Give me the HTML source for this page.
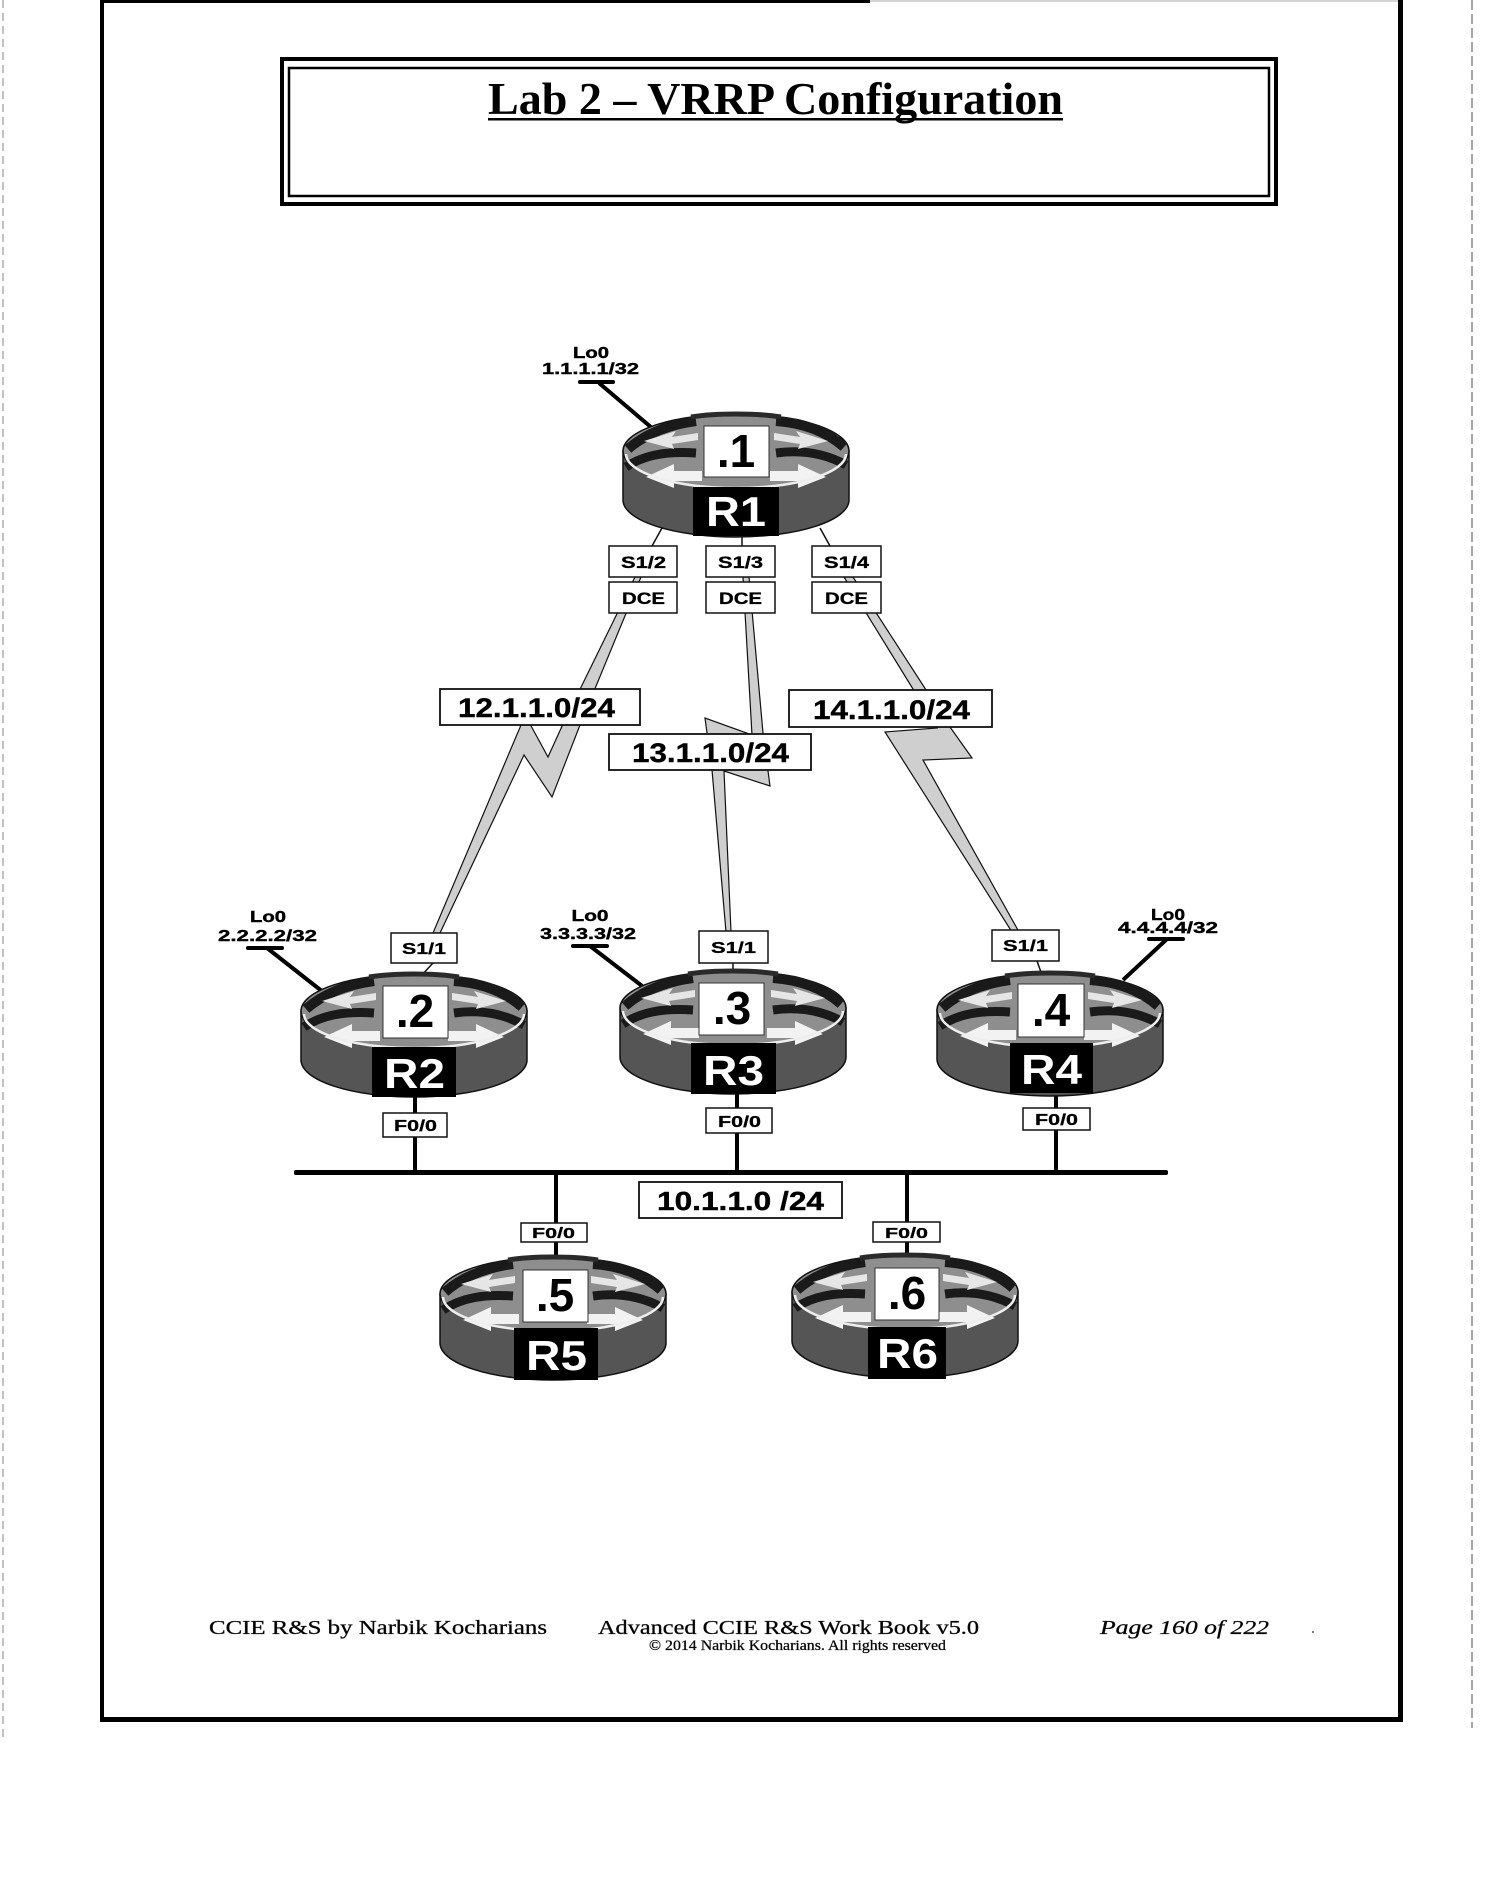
<!DOCTYPE html>
<html><head><meta charset="utf-8"><style>
html,body{margin:0;padding:0;background:#fff;}
svg{display:block;}
.sb{font-family:"Liberation Sans",Arial,sans-serif;font-weight:bold;}
.sf{font-family:"Liberation Serif","Times New Roman",serif;}
</style></head><body>
<svg width="1492" height="1896" viewBox="0 0 1492 1896" xmlns="http://www.w3.org/2000/svg">
<defs>
<g id="rt">
  <path d="M-113,0 L-113,49 A113,37 0 0 0 113,49 L113,0 Z" fill="#555" stroke="#111" stroke-width="1.5"/>
  <ellipse cx="0" cy="0" rx="113" ry="37" fill="#8e8e8e" stroke="#111" stroke-width="1.5"/>
  <path d="M-108,-2 C-92,-16 -70,-26 -40,-30" stroke="#1a1a1a" stroke-width="10" fill="none"/>
  <path d="M-110,16 C-92,4 -70,0 -40,2" stroke="#1a1a1a" stroke-width="9" fill="none"/>
  <path d="M40,-30 C70,-28 92,-18 108,-4" stroke="#1a1a1a" stroke-width="10" fill="none"/>
  <path d="M40,2 C70,-2 92,4 110,14" stroke="#1a1a1a" stroke-width="9" fill="none"/>
  <path d="M-45,-34 C-20,-38 20,-38 45,-34" stroke="#2a2a2a" stroke-width="5" fill="none"/>
  <polygon points="-92,-10 -60,-20 -64,-14 -38,-18 -38,-11 -64,-7 -62,-2" fill="#e6e6e6"/>
  <polygon points="92,-10 60,-20 64,-14 38,-18 38,-11 64,-7 62,-2" fill="#e6e6e6"/>
  <polygon points="-90,26 -62,13 -62,20 -34,20 -34,30 -62,30 -62,37" fill="#f2f2f2"/>
  <polygon points="90,26 62,13 62,20 34,20 34,30 62,30 62,37" fill="#f2f2f2"/>
  <path d="M-110,3 A110,34 0 0 0 110,3" stroke="#eeeeee" stroke-width="2.5" fill="none"/>
</g>
</defs>
<rect width="1492" height="1896" fill="#fff"/>

<!-- scan edge lines -->
<line x1="3" y1="0" x2="3" y2="1740" stroke="#999" stroke-width="1.2" stroke-dasharray="8 5"/>
<line x1="1472" y1="0" x2="1472" y2="1728" stroke="#888" stroke-width="1.5" stroke-dasharray="10 4"/>

<!-- page border -->
<rect x="100" y="0" width="770" height="3" fill="#000"/>
<line x1="870" y1="1" x2="1400" y2="1" stroke="#aaa" stroke-width="1"/>
<rect x="100" y="0" width="4" height="1722" fill="#000"/>
<rect x="1398" y="0" width="5" height="1722" fill="#000"/>
<rect x="100" y="1717" width="1303" height="5" fill="#000"/>

<!-- title box -->
<rect x="282" y="59" width="994" height="145" fill="none" stroke="#000" stroke-width="4"/>
<rect x="289" y="68" width="980" height="128" fill="none" stroke="#000" stroke-width="2.5"/>
<text class="sf" x="488" y="114" font-size="46" font-weight="bold" textLength="575" lengthAdjust="spacingAndGlyphs">Lab 2 – VRRP Configuration</text>
<rect x="488" y="118" width="575" height="2.5" fill="#000"/>

<!-- serial links (lightning) -->
<polygon points="635,577 641,577 580,725 552,797 524,755 440,933 433,933 521,725 530,724 548,757 563,724" fill="#cfcfcf" stroke="#111" stroke-width="1.2"/>
<polygon points="743,577 749,577 763,733 770,786 724,771 731,932 726,932 712,770 705,718 752,735" fill="#cfcfcf" stroke="#111" stroke-width="1.2"/>
<polygon points="844,577 853,577 950,727 972,758 923,760 1019,932 1012,932 885,732 937,728" fill="#cfcfcf" stroke="#111" stroke-width="1.2"/>

<!-- network labels -->
<rect x="440" y="689" width="200" height="36" fill="#fff" stroke="#111" stroke-width="1.8"/>
<text class="sb" x="458" y="717" font-size="27" textLength="157" lengthAdjust="spacingAndGlyphs" stroke="#000" stroke-width="0.4">12.1.1.0/24</text>
<rect x="609" y="734" width="202" height="36" fill="#fff" stroke="#111" stroke-width="1.8"/>
<text class="sb" x="632" y="762" font-size="27" textLength="157" lengthAdjust="spacingAndGlyphs" stroke="#000" stroke-width="0.4">13.1.1.0/24</text>
<rect x="789" y="690" width="203" height="37" fill="#fff" stroke="#111" stroke-width="1.8"/>
<text class="sb" x="813" y="719" font-size="27" textLength="157" lengthAdjust="spacingAndGlyphs" stroke="#000" stroke-width="0.4">14.1.1.0/24</text>

<!-- R1 loopback -->
<g stroke="#000" stroke-width="0.4">
<text class="sb" x="591" y="358" font-size="16" text-anchor="middle" textLength="36" lengthAdjust="spacingAndGlyphs">Lo0</text>
<text class="sb" x="542" y="374" font-size="16" textLength="97" lengthAdjust="spacingAndGlyphs">1.1.1.1/32</text>
</g>
<rect x="578" y="380" width="37" height="4" rx="2" fill="#000"/>
<line x1="599" y1="383" x2="652" y2="428" stroke="#000" stroke-width="4"/>

<!-- R1 to interface lines -->
<line x1="662" y1="528" x2="652" y2="546" stroke="#111" stroke-width="1.5"/>
<line x1="742" y1="536" x2="742" y2="546" stroke="#111" stroke-width="1.5"/>
<line x1="820" y1="528" x2="830" y2="546" stroke="#111" stroke-width="1.5"/>

<!-- R1 -->
<use href="#rt" x="736" y="451"/>
<rect x="704" y="426" width="65" height="51" fill="#fff" stroke="#333" stroke-width="1"/>
<text class="sb" x="736" y="467" font-size="46" text-anchor="middle">.1</text>
<rect x="693" y="487" width="86" height="49" fill="#000"/>
<text class="sb" x="706" y="526" font-size="42" fill="#fff" textLength="60" lengthAdjust="spacingAndGlyphs">R1</text>

<!-- R1 interface boxes -->
<g fill="#fff" stroke="#111" stroke-width="1.5">
<rect x="609" y="546" width="68" height="31"/><rect x="609" y="582" width="68" height="31"/>
<rect x="706" y="546" width="69" height="31"/><rect x="706" y="582" width="69" height="31"/>
<rect x="812" y="546" width="69" height="31"/><rect x="812" y="582" width="69" height="31"/>
</g>
<g class="sb" font-size="17" stroke="#000" stroke-width="0.3">
<text x="621" y="568" textLength="45" lengthAdjust="spacingAndGlyphs">S1/2</text>
<text x="622" y="604" textLength="43" lengthAdjust="spacingAndGlyphs">DCE</text>
<text x="718" y="568" textLength="45" lengthAdjust="spacingAndGlyphs">S1/3</text>
<text x="719" y="604" textLength="43" lengthAdjust="spacingAndGlyphs">DCE</text>
<text x="824" y="568" textLength="45" lengthAdjust="spacingAndGlyphs">S1/4</text>
<text x="825" y="604" textLength="43" lengthAdjust="spacingAndGlyphs">DCE</text>
</g>

<!-- loopbacks R2,R3,R4 -->
<g stroke="#000" stroke-width="0.4">
<text class="sb" x="268" y="922" font-size="16" text-anchor="middle" textLength="36" lengthAdjust="spacingAndGlyphs">Lo0</text>
<text class="sb" x="218" y="941" font-size="16" textLength="99" lengthAdjust="spacingAndGlyphs">2.2.2.2/32</text>
<text class="sb" x="590" y="921" font-size="16" text-anchor="middle" textLength="37" lengthAdjust="spacingAndGlyphs">Lo0</text>
<text class="sb" x="540" y="939" font-size="16" textLength="96" lengthAdjust="spacingAndGlyphs">3.3.3.3/32</text>
<text class="sb" x="1168" y="920" font-size="16" text-anchor="middle" textLength="34" lengthAdjust="spacingAndGlyphs">Lo0</text>
<text class="sb" x="1118" y="933" font-size="16" textLength="100" lengthAdjust="spacingAndGlyphs">4.4.4.4/32</text>
</g>
<rect x="246" y="946" width="38" height="4" rx="2" fill="#000"/>
<line x1="267" y1="948" x2="323" y2="992" stroke="#000" stroke-width="4"/>
<rect x="571" y="944" width="38" height="4" rx="2" fill="#000"/>
<line x1="590" y1="946" x2="646" y2="989" stroke="#000" stroke-width="4"/>
<rect x="1147" y="937" width="38" height="4" rx="2" fill="#000"/>
<line x1="1167" y1="939" x2="1123" y2="980" stroke="#000" stroke-width="4"/>

<!-- S1/1 to router lines -->
<line x1="433" y1="963" x2="420" y2="977" stroke="#111" stroke-width="1.5"/>
<line x1="733" y1="963" x2="733" y2="974" stroke="#111" stroke-width="1.5"/>
<line x1="1037" y1="961" x2="1042" y2="975" stroke="#111" stroke-width="1.5"/>

<!-- ethernet -->
<rect x="294" y="1170" width="874" height="5" rx="2" fill="#000"/>
<g fill="#000">
<rect x="413" y="1095" width="4" height="77"/>
<rect x="735" y="1092" width="4" height="80"/>
<rect x="1054" y="1092" width="4" height="80"/>
<rect x="554" y="1173" width="4" height="86"/>
<rect x="905" y="1173" width="4" height="84"/>
</g>

<!-- R2 -->
<use href="#rt" x="414" y="1011"/>
<rect x="383" y="986" width="65" height="52" fill="#fff" stroke="#333" stroke-width="1"/>
<text class="sb" x="415" y="1027" font-size="46" text-anchor="middle">.2</text>
<rect x="372" y="1047" width="84" height="50" fill="#000"/>
<text class="sb" x="384" y="1088" font-size="42" fill="#fff" textLength="61" lengthAdjust="spacingAndGlyphs">R2</text>

<!-- R3 -->
<use href="#rt" x="733" y="1008"/>
<rect x="699" y="983" width="65" height="52" fill="#fff" stroke="#333" stroke-width="1"/>
<text class="sb" x="732" y="1024" font-size="46" text-anchor="middle">.3</text>
<rect x="691" y="1043" width="85" height="51" fill="#000"/>
<text class="sb" x="703" y="1085" font-size="42" fill="#fff" textLength="61" lengthAdjust="spacingAndGlyphs">R3</text>

<!-- R4 -->
<use href="#rt" x="1050" y="1010"/>
<rect x="1018" y="984" width="66" height="53" fill="#fff" stroke="#333" stroke-width="1"/>
<text class="sb" x="1051" y="1026" font-size="46" text-anchor="middle">.4</text>
<rect x="1010" y="1043" width="83" height="50" fill="#000"/>
<text class="sb" x="1021" y="1084" font-size="42" fill="#fff" textLength="61" lengthAdjust="spacingAndGlyphs">R4</text>

<!-- R5 -->
<use href="#rt" x="553" y="1294"/>
<rect x="523" y="1270" width="65" height="52" fill="#fff" stroke="#333" stroke-width="1"/>
<text class="sb" x="555" y="1311" font-size="46" text-anchor="middle">.5</text>
<rect x="514" y="1328" width="84" height="52" fill="#000"/>
<text class="sb" x="526" y="1370" font-size="42" fill="#fff" textLength="61" lengthAdjust="spacingAndGlyphs">R5</text>

<!-- R6 -->
<use href="#rt" x="905" y="1292"/>
<rect x="875" y="1268" width="64" height="52" fill="#fff" stroke="#333" stroke-width="1"/>
<text class="sb" x="907" y="1309" font-size="46" text-anchor="middle">.6</text>
<rect x="868" y="1327" width="78" height="52" fill="#000"/>
<text class="sb" x="877" y="1368" font-size="42" fill="#fff" textLength="61" lengthAdjust="spacingAndGlyphs">R6</text>

<!-- S1/1 & F0/0 boxes -->
<g fill="#fff" stroke="#111" stroke-width="1.5">
<rect x="391" y="933" width="66" height="30"/>
<rect x="699" y="931" width="69" height="32"/>
<rect x="992" y="930" width="67" height="31"/>
<rect x="383" y="1113" width="64" height="24"/>
<rect x="706" y="1108" width="66" height="25"/>
<rect x="1023" y="1108" width="67" height="22"/>
<rect x="521" y="1223" width="66" height="19"/>
<rect x="873" y="1222" width="67" height="20"/>
</g>
<g class="sb" font-size="16" stroke="#000" stroke-width="0.3">
<text x="402" y="954" textLength="44" lengthAdjust="spacingAndGlyphs">S1/1</text>
<text x="711" y="953" textLength="45" lengthAdjust="spacingAndGlyphs">S1/1</text>
<text x="1003" y="951" textLength="45" lengthAdjust="spacingAndGlyphs">S1/1</text>
<text x="394" y="1131" textLength="43" lengthAdjust="spacingAndGlyphs">F0/0</text>
<text x="718" y="1127" textLength="43" lengthAdjust="spacingAndGlyphs">F0/0</text>
<text x="1035" y="1125" textLength="43" lengthAdjust="spacingAndGlyphs">F0/0</text>
<text x="532" y="1238" font-size="15" textLength="43" lengthAdjust="spacingAndGlyphs">F0/0</text>
<text x="885" y="1238" font-size="15" textLength="43" lengthAdjust="spacingAndGlyphs">F0/0</text>
</g>

<!-- ethernet label -->
<rect x="639" y="1182" width="203" height="36" fill="#fff" stroke="#111" stroke-width="1.8"/>
<text class="sb" x="657" y="1210" font-size="26" textLength="167" lengthAdjust="spacingAndGlyphs" stroke="#000" stroke-width="0.4">10.1.1.0 /24</text>

<!-- footer -->
<g stroke="#222" stroke-width="0.35">
<text class="sf" x="209" y="1634" font-size="20" textLength="338" lengthAdjust="spacingAndGlyphs">CCIE R&amp;S by Narbik Kocharians</text>
<text class="sf" x="598" y="1634" font-size="20" textLength="381" lengthAdjust="spacingAndGlyphs">Advanced CCIE R&amp;S Work Book v5.0</text>
<text class="sf" x="649" y="1650" font-size="15" textLength="297" lengthAdjust="spacingAndGlyphs">© 2014 Narbik Kocharians. All rights reserved</text>
<text class="sf" x="1100" y="1634" font-size="20" font-style="italic" textLength="169" lengthAdjust="spacingAndGlyphs">Page 160 of 222</text>
</g>
<circle cx="1313" cy="1632" r="1" fill="#555"/>
</svg>
</body></html>
